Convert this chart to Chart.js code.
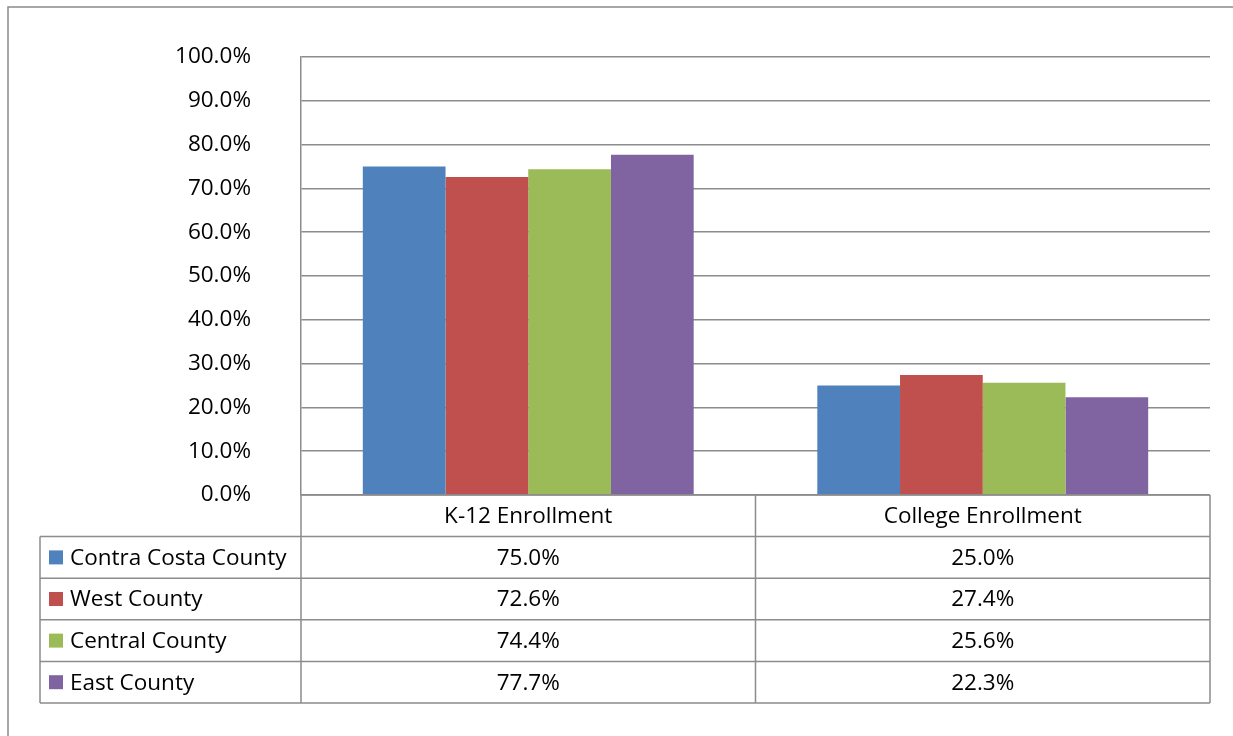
<!DOCTYPE html>
<html>
<head>
<meta charset="utf-8">
<script src="https://cdn.jsdelivr.net/npm/chart.js@4/dist/chart.umd.min.js"></script>
<style>
  html, body { margin: 0; padding: 0; background: #fff; }
  #wrap { width: 1233px; height: 736px; position: relative; }
</style>
</head>
<body>
<div id="wrap"><canvas id="enrollChart" width="1233" height="736"></canvas></div>
<script>
// categories and series
const categories = ['K-12 Enrollment', 'College Enrollment'];
const seriesNames = ['Contra Costa County', 'West County', 'Central County', 'East County'];
const contraCosta = [75.0, 25.0];
const westCounty = [72.6, 27.4];
const centralCounty = [74.4, 25.6];
const eastCounty = [77.7, 22.3];
const colors = ['#4F81BD', '#C0504D', '#9BBB59', '#8064A2'];

const fontFam = '"Open Sans", Lato, "Liberation Sans", sans-serif';
const fontSize = 22.5;
const lineCol = '#8c8c8c';

// draws the data table under the plot, using the x scale for the columns
const tablePlugin = {
    id: 'dataTable',
    afterDraw(chart) {
        const ctx = chart.ctx;
        const x = chart.scales.x;
        const area = chart.chartArea;
        const rowH = 41.6;
        const legendLeft = 40;
        const top = area.bottom;
        const nRows = chart.data.datasets.length;
        const bottom = top + rowH * (nRows + 1);

        ctx.save();
        ctx.strokeStyle = lineCol;
        ctx.lineWidth = 1.5;

        // column boundaries
        const bounds = [area.left];
        for (let i = 0; i < categories.length - 1; i++) {
            bounds.push((x.getPixelForValue(i) + x.getPixelForValue(i + 1)) / 2);
        }
        bounds.push(area.right);

        ctx.beginPath();
        bounds.forEach(function (b) {
            ctx.moveTo(b, top);
            ctx.lineTo(b, bottom);
        });
        ctx.moveTo(area.left, top);
        ctx.lineTo(area.right, top);
        for (let r = 1; r <= nRows + 1; r++) {
            ctx.moveTo(legendLeft, top + rowH * r);
            ctx.lineTo(area.right, top + rowH * r);
        }
        ctx.moveTo(legendLeft, top + rowH);
        ctx.lineTo(legendLeft, bottom);
        ctx.stroke();

        ctx.fillStyle = '#000';
        ctx.font = fontSize + 'px ' + fontFam;
        ctx.textBaseline = 'middle';
        ctx.textAlign = 'center';
        categories.forEach(function (c, i) {
            ctx.fillText(c, x.getPixelForValue(i), top + rowH / 2 + 1);
        });

        chart.data.datasets.forEach(function (ds, r) {
            const cy = top + rowH * (r + 1.5);
            ctx.fillStyle = ds.backgroundColor;
            ctx.fillRect(legendLeft + 9, cy - 7, 14, 14);
            ctx.fillStyle = '#000';
            ctx.textAlign = 'left';
            ctx.fillText(ds.label, legendLeft + 30, cy + 1);
            ctx.textAlign = 'center';
            ds.data.forEach(function (v, i) {
                ctx.fillText(v.toFixed(1) + '%', x.getPixelForValue(i), cy + 1);
            });
        });

        // outer frame
        ctx.strokeStyle = '#8a8a8a';
        ctx.lineWidth = 1.5;
        ctx.beginPath();
        ctx.moveTo(8, 736);
        ctx.lineTo(8, 7);
        ctx.lineTo(1233, 7);
        ctx.stroke();
        ctx.restore();
    }
};

const ctx = document.getElementById('enrollChart').getContext('2d');
const myChart = new Chart(ctx, {
    type: 'bar',
    data: {
        labels: categories,
        datasets: [
            { label: seriesNames[0], data: contraCosta, backgroundColor: colors[0] },
            { label: seriesNames[1], data: westCounty, backgroundColor: colors[1] },
            { label: seriesNames[2], data: centralCounty, backgroundColor: colors[2] },
            { label: seriesNames[3], data: eastCounty, backgroundColor: colors[3] }
        ]
    },
    options: {
        responsive: false,
        animation: false,
        layout: { padding: { top: 57, right: 23, bottom: 241, left: 0 } },
        datasets: { bar: { categoryPercentage: 0.728, barPercentage: 1.0, borderWidth: 0 } },
        plugins: {
            legend: { display: false },
            tooltip: { enabled: false }
        },
        scales: {
            x: {
                display: false
            },
            y: {
                min: 0,
                max: 100,
                afterFit: function (scale) {
                    scale.width = 301;
                    scale.paddingTop = 0;
                    scale.paddingBottom = 0;
                },
                ticks: {
                    stepSize: 10,
                    padding: 50,
                    color: '#000',
                    font: { family: fontFam, size: fontSize },
                    callback: function (v) { return v.toFixed(1) + '%'; }
                },
                grid: { color: lineCol, lineWidth: 1.5, drawTicks: false },
                border: { display: true, color: lineCol, width: 1.5 }
            }
        }
    },
    plugins: [tablePlugin]
});
</script>
</body>
</html>
